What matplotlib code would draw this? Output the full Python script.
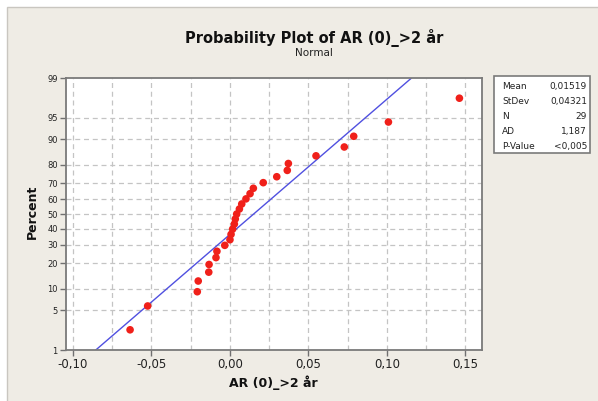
import numpy as np
import matplotlib
matplotlib.use("Agg")
import matplotlib.pyplot as plt
from matplotlib.patches import Rectangle
from statistics import NormalDist

# ---- data ----
values = [-0.0635, -0.0523, -0.0207, -0.0201, -0.0134, -0.0132, -0.0088, -0.0082,
          -0.0032, 0.0001, 0.0008, 0.0018, 0.0029, 0.0035, 0.0044, 0.0061, 0.0076,
          0.0103, 0.0129, 0.0150, 0.0213, 0.0299, 0.0366, 0.0373, 0.0549, 0.0729,
          0.0789, 0.1010, 0.1462]
fit_mean = 0.01519
fit_sd = 0.04321
stat_names = ["Mean", "StDev", "N", "AD", "P-Value"]
stat_values = ["0,01519", "0,04321", "29", "1,187", "<0,005"]
x_ticks = [-0.10, -0.05, 0.00, 0.05, 0.10, 0.15]
x_tick_labels = ["-0,10", "-0,05", "0,00", "0,05", "0,10", "0,15"]
y_ticks = [1, 5, 10, 20, 30, 40, 50, 60, 70, 80, 90, 95, 99]
title = "Probability Plot of AR (0)_>2 år"
subtitle = "Normal"
x_label = "AR (0)_>2 år"
y_label = "Percent"

W, H = 598, 401
fig = plt.figure(figsize=(W / 100, H / 100), dpi=100)
fig.patch.set_facecolor("white")

def fx(px):
    return px / W

def fy(py):
    return 1 - py / H

# outer beige frame
fig.patches.append(Rectangle((fx(7), -0.1), 1.2, fy(7) + 0.1, transform=fig.transFigure,
                             facecolor="#efece5", edgecolor="#c9c6c0", lw=1.0, zorder=-5))

nd = NormalDist()
_inv = np.vectorize(lambda p: nd.inv_cdf(min(max(p / 100.0, 1e-9), 1 - 1e-9)), otypes=[float])
_cdf = np.vectorize(lambda z: nd.cdf(z) * 100.0, otypes=[float])

def forward(p):
    return _inv(np.asarray(p, dtype=float))

def inverse(z):
    return _cdf(np.asarray(z, dtype=float))

ax = fig.add_axes([fx(66), fy(350), fx(481.7) - fx(66), fy(78) - fy(350)])
ax.set_zorder(1)
ax.set_facecolor("white")
ax.set_yscale("function", functions=(forward, inverse))
ax.set_ylim(1, 99)
ax.set_xlim(-0.1043, 0.1604)

# grid
for gx in np.arange(-0.1, 0.1501, 0.025):
    ax.axvline(gx, color="#c4c4c4", lw=0.9, ls=(0, (4, 3)), zorder=1)
for gy in y_ticks[1:-1]:
    ax.axhline(gy, color="#c4c4c4", lw=0.9, ls=(0, (4, 3)), zorder=1)

# fitted line
n = len(values)
line_p = np.array([1.0, 99.0])
line_x = np.array([fit_mean + fit_sd * nd.inv_cdf(p / 100) for p in line_p])
ax.plot(line_x, line_p, color="#5050e0", lw=1.0, zorder=2)

# points (median ranks)
xs = np.sort(np.array(values))
ranks = np.arange(1, n + 1)
pct = (ranks - 0.3) / (n + 0.4) * 100
ax.scatter(xs, pct, s=30, color="#f0201a", edgecolors="none", zorder=3)

ax.set_xticks(x_ticks)
ax.set_xticklabels(x_tick_labels, fontsize=8.5, color="#222222")
ax.set_yticks(y_ticks)
ax.set_yticklabels([str(t) for t in y_ticks], fontsize=6, color="#222222")
ax.minorticks_off()
ax.tick_params(axis="both", direction="out", length=4, width=1, color="#707070", pad=2)
for s in ax.spines.values():
    s.set_color("#7a7a7a")
    s.set_linewidth(1.3)

fig.text(fx(314), fy(38), title, ha="center", va="center", fontsize=10.5, fontweight="bold",
         color="#111111")
fig.text(fx(314), fy(53), subtitle, ha="center", va="center", fontsize=7.5, color="#222222")
fig.text(fx(273), fy(383), x_label, ha="center", va="center", fontsize=9,
         fontweight="bold", color="#111111")
fig.text(fx(32), fy(212), y_label, ha="center", va="center", rotation=90, fontsize=9,
         fontweight="bold", color="#111111")

# statistics box
fig.patches.append(Rectangle((fx(494), fy(153)), fx(590) - fx(494), fy(76) - fy(153),
                             transform=fig.transFigure, facecolor="white",
                             edgecolor="#7a7a7a", lw=1.2, zorder=2))
row_y = [86.5, 101.5, 116.5, 131.5, 146.5]
for name, val, ry in zip(stat_names, stat_values, row_y):
    fig.text(fx(502), fy(ry), name, ha="left", va="center", fontsize=6.5, color="#222222",
             zorder=3)
    fig.text(fx(587), fy(ry), val, ha="right", va="center", fontsize=6.5, color="#222222",
             zorder=3)

fig.savefig("out.png", dpi=100, facecolor=fig.get_facecolor())
